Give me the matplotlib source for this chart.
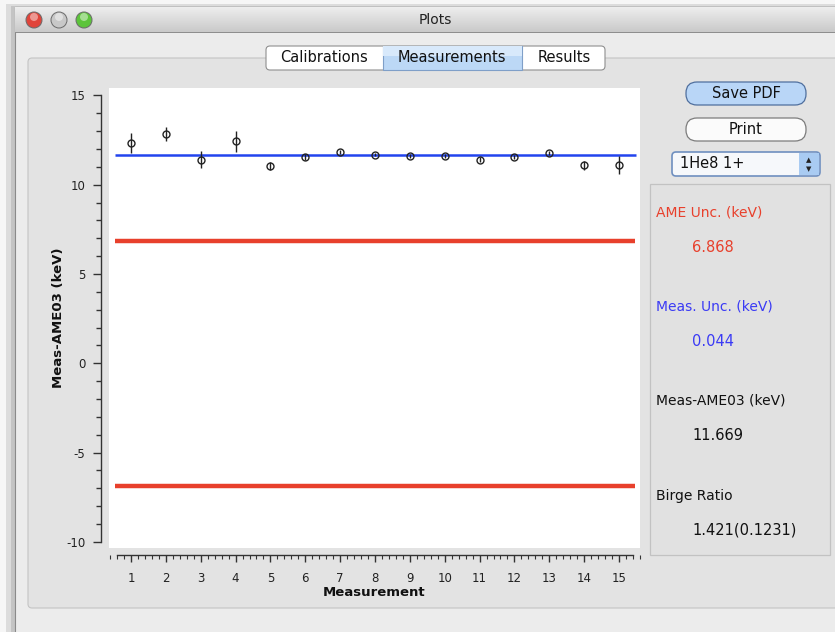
import matplotlib
matplotlib.use("Agg")
import matplotlib.pyplot as plt
import numpy as np
from matplotlib.patches import Rectangle, FancyBboxPatch, Circle
from matplotlib.transforms import IdentityTransform
from matplotlib.ticker import MultipleLocator

plt.rcParams["axes.unicode_minus"] = False

# Data
measurement = list(range(1, 16))
meas_minus_ame = [12.36, 12.83, 11.40, 12.42, 11.06, 11.55, 11.83, 11.68,
                  11.60, 11.62, 11.41, 11.55, 11.77, 11.08, 11.08]
meas_err = [0.56, 0.39, 0.49, 0.60, 0.23, 0.15, 0.12, 0.10,
            0.10, 0.10, 0.12, 0.12, 0.12, 0.25, 0.50]
weighted_mean = 11.669
ame_unc = 6.868
meas_unc = 0.044
birge_ratio = "1.421(0.1231)"

W, H = 835, 632
fig = plt.figure(figsize=(W / 100, H / 100), dpi=100)
fig.patch.set_facecolor("#ececec")
PX = IdentityTransform()


def box(x, y, w, h, fc, ec="none", lw=1.0, r=0, z=0):
    # pixel coords, origin top-left
    if r:
        p = FancyBboxPatch((x, H - y - h), w, h, boxstyle=f"round,pad=0,rounding_size={r}",
                           fc=fc, ec=ec, lw=lw, transform=PX, zorder=z)
    else:
        p = Rectangle((x, H - y - h), w, h, fc=fc, ec=ec, lw=lw, transform=PX, zorder=z)
    fig.add_artist(p)
    return p


def label(x, y, s, **kw):
    kw.setdefault("va", "center")
    kw.setdefault("fontsize", 10)
    fig.text(x, H - y, s, transform=PX, **kw)


# window shadow / border
box(0, 0, W, H, "#f6f6f6")
box(6, 4, W, H, "#dcdcdc")
box(11, 6, W, H, "#c4c4c4")
box(15, 7, W, H, "#ececec", ec="#8a8a8a", lw=0.8)

# title bar gradient
tb = fig.add_axes([15 / W, 1 - 32 / H, 1 - 15 / W, 25 / H])
tb.imshow(np.linspace(0.93, 0.79, 50).reshape(-1, 1), cmap="gray", vmin=0, vmax=1,
          aspect="auto", extent=[0, 1, 0, 1])
tb.set_axis_off()
box(15, 32, W, 1, "#8e8e8e", z=2)
label(435, 20, "Plots", ha="center", fontsize=10, color="#222222")
for cx, col in [(34, "#e0443a"), (59, "#c8c8c8"), (84, "#5cc43a")]:
    fig.add_artist(Circle((cx, H - 20), 8, fc=col, ec="#6a6a6a", lw=0.7, transform=PX, zorder=3))
    fig.add_artist(Circle((cx, H - 17), 4, fc="white", alpha=0.45, ec="none", transform=PX, zorder=4))

# tab group box
box(28, 58, W, 550, "#e3e3e3", ec="#c4c4c4", lw=0.8, r=4)

# tabs
box(266, 46, 339, 24, "white", ec="#8f8f8f", lw=0.8, r=4, z=2)
box(383, 46, 139, 24, "#bcd8f6", ec="#7f9fc8", lw=0.8, z=3)
box(383, 46, 139, 10, "#d8e9fb", ec="none", z=3)
label(324, 58, "Calibrations", ha="center", fontsize=10.5, color="#111111", zorder=4)
label(452, 58, "Measurements", ha="center", fontsize=10.5, color="#111111", zorder=4)
label(564, 58, "Results", ha="center", fontsize=10.5, color="#111111", zorder=4)

# right side controls
box(686, 82, 120, 23, "#b9d6f7", ec="#4f6f9e", lw=0.9, r=11, z=2)
label(746, 94, "Save PDF", ha="center", fontsize=10.5, color="#111111", zorder=4)
box(686, 118, 120, 23, "#fbfbfb", ec="#7c7c7c", lw=0.9, r=11, z=2)
label(746, 130, "Print", ha="center", fontsize=10.5, color="#111111", zorder=4)
box(672, 152, 148, 24, "#f6f8fb", ec="#6f8fbf", lw=1.2, r=4, z=2)
box(799, 153, 20, 22, "#a9cbf2", ec="none", z=3)
label(680, 164, "1He8 1+", ha="left", fontsize=10.5, color="#111111", zorder=4)
label(809, 160, "\u25b2", ha="center", fontsize=5, color="#222222", zorder=4)
label(809, 169, "\u25bc", ha="center", fontsize=5, color="#222222", zorder=4)

# info panel
box(650, 184, 180, 371, "#e1e1e1", ec="#c2c2c2", lw=0.9, z=1)
label(656, 212, "AME Unc. (keV)", color="#e8402c", zorder=4)
label(692, 247, f"{ame_unc:.3f}", color="#e8402c", fontsize=10.5, zorder=4)
label(656, 307, "Meas. Unc. (keV)", color="#3a3af5", zorder=4)
label(692, 342, f"{meas_unc:.3f}", color="#3a3af5", fontsize=10.5, zorder=4)
label(656, 401, "Meas-AME03 (keV)", color="#111111", zorder=4)
label(692, 436, f"{weighted_mean:.3f}", color="#111111", fontsize=10.5, zorder=4)
label(656, 496, "Birge Ratio", color="#111111", zorder=4)
label(692, 530, birge_ratio, color="#111111", fontsize=10.5, zorder=4)

# main plot area: white box 109..640 x 88..548 px
ax = fig.add_axes([109 / W, 1 - 548 / H, (640 - 109) / W, (548 - 88) / H])
ax.set_facecolor("white")
x0 = 1 - 22 / 34.857
x1 = 1 + 509 / 34.857
y1 = (363.3 - 88) / 17.86
y0 = -(548 - 363.3) / 17.86

ax.hlines([ame_unc, -ame_unc], 0.55, 15.45, color="#e8402c", lw=3.2, zorder=2)
ax.hlines(weighted_mean, 0.55, 15.48, color="#2244ee", lw=1.8, zorder=3)
ax.errorbar(measurement, meas_minus_ame, yerr=meas_err, fmt="o", ms=5, mfc="none",
            mec="#222222", mew=1.0, ecolor="#222222", elinewidth=1.0, capsize=0, zorder=4)

for s in ["top", "right"]:
    ax.spines[s].set_visible(False)
ax.spines["left"].set_position(("outward", 6))
ax.spines["bottom"].set_position(("outward", 5))
ax.spines["left"].set_bounds(-10, 15)
ax.spines["bottom"].set_bounds(0.6, 15.4)
for s in ["left", "bottom"]:
    ax.spines[s].set_color("#333333")
    ax.spines[s].set_linewidth(1.0)

ax.set_xticks(measurement)
ax.xaxis.set_minor_locator(MultipleLocator(0.2))
ax.yaxis.set_major_locator(MultipleLocator(5))
ax.yaxis.set_minor_locator(MultipleLocator(1))
tick_font = ["Liberation Sans Narrow", "DejaVu Sans"]
ax.tick_params(axis="y", which="major", length=6, width=1, pad=5, labelsize=8.5, colors="#333333")
ax.tick_params(axis="y", which="minor", length=3.5, width=1, colors="#333333")
ax.tick_params(axis="x", which="major", length=5, width=1, pad=7, labelsize=8.5, colors="#333333")
ax.tick_params(axis="x", which="minor", length=3, width=0.8, colors="#333333")
for t in ax.get_xticklabels() + ax.get_yticklabels():
    t.set_family(tick_font)
    t.set_color("#222222")
ax.set_ylim(y0, y1)
ax.set_xlim(x0, x1)

ax.set_xlabel("Measurement", fontsize=9.5, fontweight="bold", labelpad=1, color="#111111")
ax.set_ylabel("Meas-AME03 (keV)", fontsize=9.5, fontweight="bold", labelpad=1, color="#111111")

fig.savefig("out.png", dpi=100)
